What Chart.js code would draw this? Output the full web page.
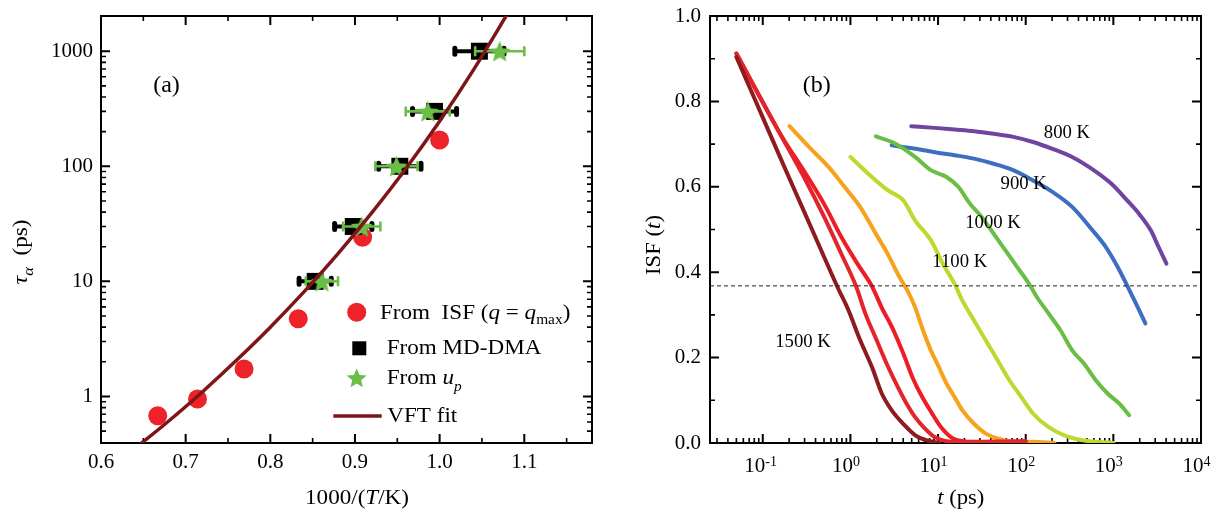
<!DOCTYPE html>
<html><head><meta charset="utf-8">
<script src="https://cdn.jsdelivr.net/npm/chart.js@4.4.1/dist/chart.umd.min.js"></script>
<style>
html,body{margin:0;padding:0;background:#fff;}
#wrap{position:relative;width:1216px;height:513px;overflow:hidden;background:#fff;}
canvas{position:absolute;top:0;}
</style></head><body>
<div id="wrap">
<canvas id="cA" width="608" height="513" style="left:0"></canvas>
<canvas id="cB" width="608" height="513" style="left:608px"></canvas>
</div>
<script>
// ---------------- Panel (a) data ----------------
const invT_ISF = [0.667, 0.714, 0.769, 0.833, 0.909, 1.000];
const tau_ISF  = [0.68, 0.95, 1.73, 4.73, 24.2, 169];
const invT_DMA = [0.853, 0.898, 0.953, 0.994, 1.047];
const tau_DMA  = [10, 30, 100, 300, 1000];
const err_DMA  = [0.019, 0.022, 0.025, 0.026, 0.029];
const invT_up  = [0.861, 0.908, 0.949, 0.986, 1.071];
const tau_up   = [10, 30, 100, 300, 1000];
const err_up   = [0.019, 0.022, 0.025, 0.026, 0.029];
const invT_VFT = [0.640, 0.680, 0.720, 0.760, 0.800, 0.840, 0.880, 0.920, 0.960, 1.000, 1.040, 1.085];
const tau_VFT  = [0.352, 0.612, 1.10, 2.06, 4.00, 8.14, 17.4, 39.5, 95.1, 246, 689, 2427];
const invTTicks = [0.6, 0.7, 0.8, 0.9, 1.0, 1.1];
const tauTicks  = [1, 10, 100, 1000];

// ---------------- Panel (b) data ----------------
const t1500 = [0.050, 0.080, 0.157, 0.25, 0.37, 0.51, 0.72, 0.95, 1.29, 1.76, 2.28, 2.95, 4.0, 5.5, 7.5, 10.4];
const f1500 = [0.904, 0.808, 0.670, 0.576, 0.497, 0.432, 0.363, 0.311, 0.241, 0.178, 0.116, 0.077, 0.045, 0.018, 0.006, 0.0];
const t1400 = [0.050, 0.157, 0.30, 0.50, 0.80, 1.16, 1.5, 2.0, 2.6, 3.4, 4.3, 5.5, 7, 9, 12, 20, 40, 100];
const f1400 = [0.912, 0.725, 0.62, 0.53, 0.44, 0.367, 0.30, 0.24, 0.185, 0.135, 0.095, 0.06, 0.035, 0.015, 0.005, 0.002, 0.003, 0.004];
const t1300 = [0.050, 0.157, 0.30, 0.50, 0.80, 1.2, 1.76, 2.3, 3.0, 4.0, 5.2, 6.5, 8.5, 11, 15, 25, 50, 100];
const f1300 = [0.912, 0.725, 0.635, 0.56, 0.48, 0.42, 0.367, 0.315, 0.27, 0.21, 0.15, 0.11, 0.07, 0.035, 0.01, 0.003, 0.003, 0.004];
const t1200 = [0.202, 0.338, 0.566, 0.855, 1.29, 1.95, 2.66, 3.62, 4.45, 5.47, 6.73, 8.27, 10.2, 12.5, 15.4, 18.9, 25.7, 35.1, 53, 80, 120, 213];
const f1200 = [0.742, 0.693, 0.646, 0.600, 0.553, 0.490, 0.443, 0.389, 0.358, 0.318, 0.264, 0.217, 0.178, 0.139, 0.108, 0.077, 0.045, 0.022, 0.008, 0.002, 0.003, 0.0];
const t1100 = [1.0, 1.59, 2.66, 4.02, 5.47, 8.27, 11.3, 15.4, 18.9, 25.7, 35.1, 47.8, 65.1, 88.8, 121, 183, 276, 462, 1000];
const f1100 = [0.670, 0.631, 0.592, 0.568, 0.521, 0.475, 0.420, 0.373, 0.334, 0.287, 0.240, 0.194, 0.147, 0.108, 0.069, 0.037, 0.018, 0.006, 0.0];
const t1000 = [1.95, 3.27, 5.47, 8.27, 12.5, 17.0, 23.2, 31.6, 43.1, 58.7, 80.0, 109, 134, 183, 249, 339, 462, 630, 859, 1170, 1514];
const f1000 = [0.718, 0.701, 0.670, 0.639, 0.623, 0.600, 0.560, 0.529, 0.490, 0.451, 0.412, 0.373, 0.342, 0.303, 0.264, 0.217, 0.186, 0.147, 0.116, 0.092, 0.065];
const t900  = [2.95, 5.5, 9.2, 15.4, 25.7, 43, 72, 121, 202, 339, 568, 800, 1100, 1450, 1740, 2320];
const f900  = [0.697, 0.689, 0.681, 0.674, 0.666, 0.654, 0.639, 0.615, 0.588, 0.553, 0.500, 0.462, 0.415, 0.367, 0.334, 0.280];
const t800  = [4.94, 9.16, 15.4, 25.7, 43.1, 72.1, 121, 202, 339, 568, 951, 1438, 1960, 2673, 3281, 4036];
const f800  = [0.742, 0.738, 0.734, 0.730, 0.724, 0.717, 0.705, 0.689, 0.670, 0.642, 0.607, 0.568, 0.537, 0.498, 0.459, 0.420];
const dashedLevel = [0.368];
const tTicks   = [0.1, 1, 10, 100, 1000, 10000];
const isfTicks = [0, 0.2, 0.4, 0.6, 0.8, 1.0];
const curveLabels = ['800 K', '900 K', '1000 K', '1100 K', '1500 K'];

// ---------------- helpers ----------------
const F = "'Liberation Serif','Times New Roman',Times,serif";
const fnt = (s, it) => (it ? 'italic ' : '') + s + 'px ' + F;
const zip = (xs, ys) => xs.map((x, i) => ({x: x, y: ys[i]}));
Chart.defaults.font.family = F;
Chart.defaults.color = '#000';
Chart.defaults.animation = false;

function drawRich(ctx, x, y, segs, o) {
  o = o || {};
  const sx = o.sx || 1;
  ctx.save();
  ctx.fillStyle = '#000'; ctx.textBaseline = 'alphabetic'; ctx.textAlign = 'left';
  let w = 0;
  segs.forEach(s => { ctx.font = s.f; w += ctx.measureText(s.t).width; });
  ctx.translate(x, y);
  if (o.rot) ctx.rotate(o.rot);
  ctx.scale(sx, 1);
  let cx = o.align === 'center' ? -w / 2 : 0;
  segs.forEach(s => { ctx.font = s.f; ctx.fillText(s.t, cx, s.dy || 0); cx += ctx.measureText(s.t).width; });
  ctx.restore();
}

function starPath(g, cx, cy, R) {
  const r = R * 0.45;
  g.beginPath();
  for (let i = 0; i < 10; i++) {
    const rad = i % 2 ? r : R;
    const a = -Math.PI / 2 + i * Math.PI / 5;
    const px = cx + rad * Math.cos(a), py = cy + rad * Math.sin(a);
    i ? g.lineTo(px, py) : g.moveTo(px, py);
  }
  g.closePath();
}
function makeStar(R, color) {
  const s = Math.ceil(2 * R + 2);
  const c = document.createElement('canvas');
  c.width = s; c.height = s;
  const g = c.getContext('2d');
  g.fillStyle = color;
  starPath(g, s / 2, s / 2 + 0.095 * R, R);
  g.fill();
  return c;
}
const GREEN = '#6BBE45';
const starImg = makeStar(11.4, GREEN);

function logMinor(lo, hi) {
  const out = [];
  for (let e = Math.floor(Math.log10(lo)); e <= Math.ceil(Math.log10(hi)); e++) {
    for (let k = 2; k <= 9; k++) { const v = k * Math.pow(10, e); if (v > lo && v < hi) out.push(v); }
  }
  return out;
}

// frame + inward ticks
const framePlugin = {
  id: 'frame',
  beforeDatasetsDraw(chart) {
    const ctx = chart.ctx, a = chart.chartArea, xs = chart.scales.x, ys = chart.scales.y;
    const c = chart.options.frame;
    ctx.save();
    ctx.strokeStyle = '#000';
    const tick = (vals, len, lw) => {
      ctx.lineWidth = lw;
      ctx.beginPath();
      vals.forEach(v => {
        const p = xs.getPixelForValue(v);
        if (p < a.left + 1 || p > a.right - 1) return;
        ctx.moveTo(p, a.bottom); ctx.lineTo(p, a.bottom - len);
        ctx.moveTo(p, a.top); ctx.lineTo(p, a.top + len);
      });
      ctx.stroke();
    };
    const ytick = (vals, len, lw) => {
      ctx.lineWidth = lw;
      ctx.beginPath();
      vals.forEach(v => {
        const p = ys.getPixelForValue(v);
        if (p < a.top + 1 || p > a.bottom - 1) return;
        ctx.moveTo(a.left, p); ctx.lineTo(a.left + len, p);
        ctx.moveTo(a.right, p); ctx.lineTo(a.right - len, p);
      });
      ctx.stroke();
    };
    tick(c.xMajor, 9, 2); tick(c.xMinor, 5, 1.6);
    ytick(c.yMajor, 9, 2); ytick(c.yMinor, 5, 1.6);
    ctx.lineWidth = 2;
    ctx.strokeRect(a.left, a.top, a.right - a.left, a.bottom - a.top);
    ctx.restore();
  }
};

// horizontal error bars
const errPlugin = {
  id: 'xerr',
  beforeDatasetDraw(chart, args) {
    const ds = chart.data.datasets[args.index];
    if (!ds.xerr) return;
    const ctx = chart.ctx, xs = chart.scales.x, ys = chart.scales.y;
    ctx.save();
    ds.data.forEach((p, i) => {
      const x0 = xs.getPixelForValue(p.x - ds.xerr[i]), x1 = xs.getPixelForValue(p.x + ds.xerr[i]);
      const y = ys.getPixelForValue(p.y);
      if (ds.errStyle === 'black') {
        ctx.strokeStyle = '#000'; ctx.lineWidth = 4; ctx.lineCap = 'butt';
        ctx.beginPath(); ctx.moveTo(x0, y); ctx.lineTo(x1, y); ctx.stroke();
        ctx.lineWidth = 5; ctx.lineCap = 'round';
        ctx.beginPath(); ctx.moveTo(x0, y - 3); ctx.lineTo(x0, y + 3); ctx.moveTo(x1, y - 3); ctx.lineTo(x1, y + 3); ctx.stroke();
      } else {
        ctx.strokeStyle = GREEN; ctx.lineWidth = 2.6; ctx.lineCap = 'butt';
        ctx.beginPath(); ctx.moveTo(x0, y); ctx.lineTo(x1, y); ctx.stroke();
        ctx.beginPath(); ctx.moveTo(x0, y - 5); ctx.lineTo(x0, y + 5); ctx.moveTo(x1, y - 5); ctx.lineTo(x1, y + 5); ctx.stroke();
      }
    });
    ctx.restore();
  }
};

const textA = {
  id: 'textA',
  afterDraw(chart) {
    const ctx = chart.ctx;
    const SX = 1.1;
    drawRich(ctx, 166.5, 92.4, [{t: '(a)', f: fnt(24)}], {align: 'center'});
    drawRich(ctx, 357, 503.5, [{t: '1000/(', f: fnt(21)}, {t: 'T', f: fnt(21, true)}, {t: '/K)', f: fnt(21)}], {align: 'center', sx: SX});
    drawRich(ctx, 27, 252, [{t: 'τ', f: fnt(22, true)}, {t: 'α', f: fnt(15, true), dy: 6}, {t: '  (ps)', f: fnt(21)}], {align: 'center', rot: -Math.PI / 2, sx: SX});
    ctx.save();
    ctx.fillStyle = '#EE2229';
    ctx.beginPath(); ctx.arc(356.7, 312.3, 9.5, 0, 2 * Math.PI); ctx.fill();
    ctx.fillStyle = '#000';
    ctx.fillRect(359.3 - 7, 348.3 - 7, 14, 14);
    ctx.fillStyle = GREEN;
    starPath(ctx, 356.7, 377.7 + 1, 10.5); ctx.fill();
    ctx.strokeStyle = '#7E1518'; ctx.lineWidth = 3.5;
    ctx.beginPath(); ctx.moveTo(333.3, 416); ctx.lineTo(381.7, 416); ctx.stroke();
    ctx.restore();
    drawRich(ctx, 380, 319, [{t: 'From  ISF (', f: fnt(21)}, {t: 'q', f: fnt(21, true)}, {t: ' = ', f: fnt(21)}, {t: 'q', f: fnt(21, true)}, {t: 'max', f: fnt(14), dy: 5}, {t: ')', f: fnt(21)}], {sx: SX});
    drawRich(ctx, 386.7, 354, [{t: 'From MD-DMA', f: fnt(21)}], {sx: SX});
    drawRich(ctx, 386.7, 384, [{t: 'From ', f: fnt(21)}, {t: 'u', f: fnt(21, true)}, {t: 'p', f: fnt(14, true), dy: 7}], {sx: SX});
    drawRich(ctx, 387.3, 422.3, [{t: 'VFT fit', f: fnt(21)}], {sx: SX});
  }
};

const OX = 608;
const textB = {
  id: 'textB',
  afterDraw(chart) {
    const ctx = chart.ctx;
    const SX = 1.08;
    drawRich(ctx, 816.7 - OX, 92, [{t: '(b)', f: fnt(24)}], {align: 'center'});
    drawRich(ctx, 960.8 - OX, 504, [{t: 't', f: fnt(21, true)}, {t: ' (ps)', f: fnt(21)}], {align: 'center', sx: SX});
    drawRich(ctx, 660 - OX, 245, [{t: 'ISF (', f: fnt(21)}, {t: 't', f: fnt(21, true)}, {t: ')', f: fnt(21)}], {align: 'center', rot: -Math.PI / 2, sx: SX});
    const pos = [[1067, 137.5], [1023.7, 189], [993, 227.5], [959.8, 266.5], [803, 346.5]];
    curveLabels.forEach((s, i) => drawRich(ctx, pos[i][0] - OX, pos[i][1], [{t: s, f: fnt(18)}], {align: 'center', sx: 1.04}));
    // exponents of the decade tick labels
    const xs = chart.scales.x;
    tTicks.forEach(v => {
      const e = Math.round(Math.log10(v));
      drawRich(ctx, xs.getPixelForValue(v) + 2.5, 466, [{t: e < 0 ? '-' + (-e) : String(e), f: fnt(14)}]);
    });
  }
};

// ---------------- Chart (a) ----------------
new Chart(document.getElementById('cA'), {
  type: 'scatter',
  data: {
    datasets: [
      {label: 'VFT fit', data: zip(invT_VFT, tau_VFT), showLine: true, borderColor: '#7E1518', borderWidth: 3.5,
       pointRadius: 0, cubicInterpolationMode: 'monotone', order: 0},
      {label: 'From up', data: zip(invT_up, tau_up), xerr: err_up, errStyle: 'green', pointStyle: starImg,
       pointRadius: 11, pointBorderWidth: 0, order: 1},
      {label: 'From MD-DMA', data: zip(invT_DMA, tau_DMA), xerr: err_DMA, errStyle: 'black', pointStyle: 'rect',
       pointRadius: 12, pointBackgroundColor: '#000', pointBorderWidth: 0, order: 2},
      {label: 'From ISF', data: zip(invT_ISF, tau_ISF), pointStyle: 'circle', pointRadius: 9.5,
       pointBackgroundColor: '#EE2229', pointBorderWidth: 0, order: 3}
    ]
  },
  options: {
    responsive: false, events: [],
    layout: {padding: {left: 0, right: 16, top: 16, bottom: 0}},
    plugins: {legend: {display: false}, tooltip: {enabled: false}},
    frame: {
      xMajor: invTTicks, xMinor: invTTicks.map(v => v + 0.05),
      yMajor: tauTicks, yMinor: logMinor(0.394, 2023)
    },
    scales: {
      x: {type: 'linear', min: 0.6, max: 1.18,
          grid: {display: false, drawTicks: false}, border: {display: false},
          ticks: {font: {size: 21}, padding: 7, color: '#000', maxRotation: 0, autoSkip: false, callback: v => Number(v).toFixed(1)},
          afterBuildTicks: s => { s.ticks = invTTicks.map(v => ({value: v})); },
          afterFit: s => { s.height = 70; s.paddingLeft = 0; s.paddingRight = 0; }},
      y: {type: 'logarithmic', min: 0.394, max: 2023,
          grid: {display: false, drawTicks: false}, border: {display: false},
          ticks: {font: {size: 21}, padding: 8, color: '#000', autoSkip: false, callback: v => String(v)},
          afterBuildTicks: s => { s.ticks = tauTicks.map(v => ({value: v})); },
          afterFit: s => { s.width = 101; s.paddingTop = 0; s.paddingBottom = 0; }}
    }
  },
  plugins: [framePlugin, errPlugin, textA]
});

// ---------------- Chart (b) ----------------
const series = [
  {t: t800, f: f800, c: '#7244A2'},
  {t: t900, f: f900, c: '#3D6FC0'},
  {t: t1000, f: f1000, c: '#6ABD45'},
  {t: t1100, f: f1100, c: '#C0D730'},
  {t: t1200, f: f1200, c: '#F7A21C'},
  {t: t1300, f: f1300, c: '#EE1D25'},
  {t: t1400, f: f1400, c: '#E3252B'},
  {t: t1500, f: f1500, c: '#8E1B1F'}
];
const seriesNames = ['800 K', '900 K', '1000 K', '1100 K', '1200 K', '1300 K', '1400 K', '1500 K'];
const dsB = series.map((s, i) => ({
  label: seriesNames[i], data: zip(s.t, s.f), showLine: true, borderColor: s.c, borderWidth: 4,
  pointRadius: 0, cubicInterpolationMode: 'monotone', borderCapStyle: 'round', borderJoinStyle: 'round', order: 10 - i
}));
dsB.push({label: '1/e', data: [{x: 0.025, y: dashedLevel[0]}, {x: 10000, y: dashedLevel[0]}], showLine: true,
  borderColor: '#222', borderWidth: 1, borderDash: [4, 3], pointRadius: 0, order: 0});

new Chart(document.getElementById('cB'), {
  type: 'scatter',
  data: {datasets: dsB},
  options: {
    responsive: false, events: [],
    layout: {padding: {left: 0, right: 15, top: 16, bottom: 0}},
    plugins: {legend: {display: false}, tooltip: {enabled: false}},
    frame: {
      xMajor: tTicks, xMinor: logMinor(0.025, 10000),
      yMajor: isfTicks, yMinor: [0.1, 0.3, 0.5, 0.7, 0.9]
    },
    scales: {
      x: {type: 'logarithmic', min: 0.025, max: 10000,
          grid: {display: false, drawTicks: false}, border: {display: false},
          ticks: {font: {size: 21}, padding: 11, color: '#000', maxRotation: 0, autoSkip: false, labelOffset: -8,
                  callback: () => '10'},
          afterBuildTicks: s => { s.ticks = tTicks.map(v => ({value: v})); },
          afterFit: s => { s.height = 70; s.paddingLeft = 0; s.paddingRight = 0; }},
      y: {type: 'linear', min: 0, max: 1,
          grid: {display: false, drawTicks: false}, border: {display: false},
          ticks: {font: {size: 21}, padding: 9, color: '#000', autoSkip: false, callback: v => Number(v).toFixed(1)},
          afterBuildTicks: s => { s.ticks = isfTicks.map(v => ({value: v})); },
          afterFit: s => { s.width = 102; s.paddingTop = 0; s.paddingBottom = 0; }}
    }
  },
  plugins: [framePlugin, textB]
});
</script>
</body></html>
